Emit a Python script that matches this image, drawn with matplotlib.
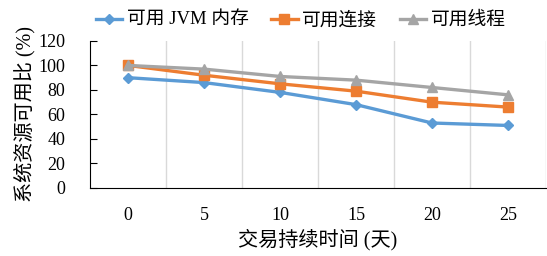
import matplotlib
matplotlib.use("Agg")
import matplotlib.pyplot as plt
import numpy as np

plt.rcParams["font.family"] = ["Liberation Serif", "Noto Sans CJK SC"]

days = ["0", "5", "10", "15", "20", "25"]
jvm_mem = [90, 86, 78, 68, 53, 51]
connections = [100, 92, 85, 79, 70, 66]
threads = [100, 97, 91, 88, 82, 76]

fig = plt.figure(figsize=(5.47, 2.56), dpi=100)
ax = fig.add_axes([0.165, 0.266, 0.833, 0.574])

x = np.arange(len(days))
ax.plot(x, jvm_mem, color="#5B9BD5", lw=2.4, marker="D", ms=5, label="可用 JVM 内存")
ax.plot(x, connections, color="#ED7D31", lw=2.4, marker="s", ms=6.5, label="可用连接")
ax.plot(x, threads, color="#A5A5A5", lw=2.4, marker="^", ms=7, label="可用线程")

ax.set_xlim(-0.5, len(days) - 0.5)
ax.set_ylim(0, 120)
ax.set_yticks(range(0, 121, 20))
ax.set_xticks(x)
ax.set_xticklabels(days)
ax.set_xticks(np.arange(0.5, len(days), 1), minor=True)
ax.grid(True, which="minor", axis="x", color="#D9D9D9", lw=1)
ax.tick_params(axis="x", which="both", length=0, pad=14, labelsize=13)
ax.tick_params(axis="y", direction="in", length=5, labelsize=13, pad=18)
ax.spines["top"].set_visible(False)
ax.spines["right"].set_visible(False)
ax.spines["left"].set_color("black")
ax.spines["bottom"].set_color("black")

ax.set_xlabel("交易持续时间 (天)", fontsize=14.5, labelpad=3)
ax.set_ylabel("系统资源可用比 (%)", fontsize=14.5, labelpad=2)

fig.legend(loc="center", bbox_to_anchor=(0.55, 0.92), ncol=3, frameon=False,
           fontsize=13.5, handlelength=1.4, handletextpad=0.25, columnspacing=1.2)

fig.savefig("out.png", dpi=100)
